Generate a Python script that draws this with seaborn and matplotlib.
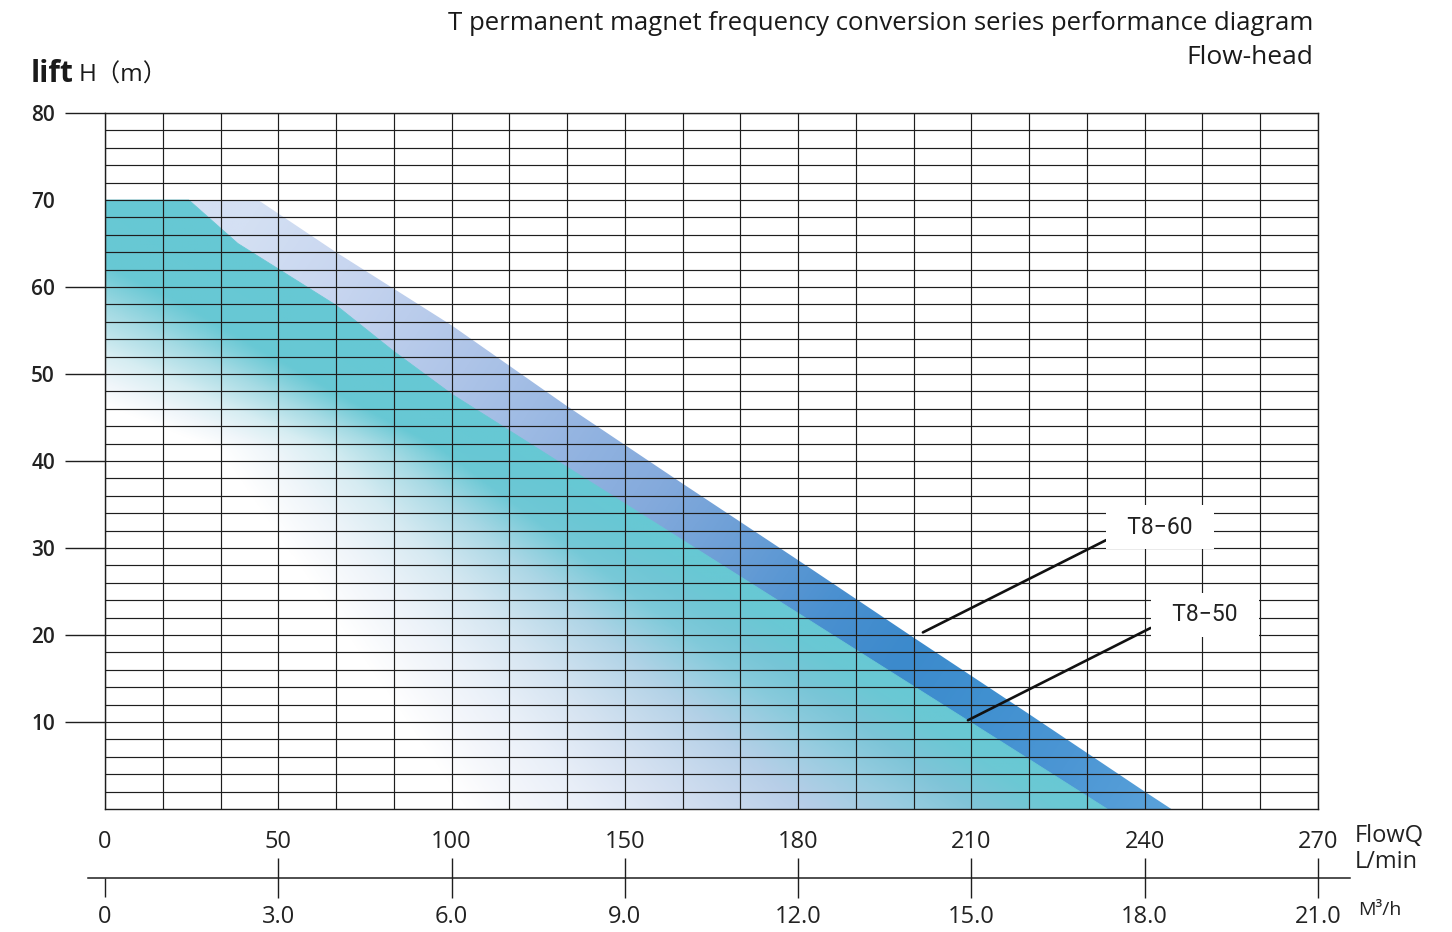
import numpy as np
import matplotlib
matplotlib.use("Agg")
import matplotlib.pyplot as plt
from matplotlib.colors import LinearSegmentedColormap
from matplotlib.transforms import blended_transform_factory
import seaborn as sns

# flow in m3/h, head in m
q60 = [0, 2.65, 4.0, 6.0, 8.0, 10.0, 12.0, 14.0, 16.0, 18.0, 18.46]
h60 = [70, 70, 64.0, 55.6, 46.3, 37.4, 28.6, 19.7, 10.9, 2.0, 0]
q50 = [0, 1.45, 2.3, 4.0, 5.0, 6.0, 8.0, 10.0, 12.0, 14.0, 16.0, 17.35]
h50 = [70, 70, 65.0, 57.9, 52.6, 47.7, 39.3, 30.9, 22.5, 14.1, 5.7, 0]

head_ticks = [10, 20, 30, 40, 50, 60, 70, 80]
flow_m3h = [0, 3, 6, 9, 12, 15, 18, 21]
m3h_labels = ["0", "3.0", "6.0", "9.0", "12.0", "15.0", "18.0", "21.0"]
lmin_labels = ["0", "50", "100", "150", "180", "210", "240", "270"]

models = ["T8\u221260", "T8\u221250"]
pointer_q = [14.16, 14.94]
pointer_h = [20.3, 10.2]
label_q = [18.27, 19.04]
label_h = [32.4, 22.3]

sns.set_theme(style="white")
plt.rcParams["font.family"] = ["Open Sans", "Noto Sans CJK SC", "DejaVu Sans"]

W, H = 1452, 932
fig = plt.figure(figsize=(W / 100, H / 100), dpi=100)
L, R, T, B = 105, 1318, 113, 809
ax = fig.add_axes([L / W, 1 - B / H, (R - L) / W, (B - T) / H])
XMAX, YMAX = 21, 80
sx = (R - L) / XMAX
sy = (B - T) / YMAX

# gradient images
nx, ny = 1200, 700
xx, yy = np.meshgrid(np.linspace(0, XMAX, nx), np.linspace(0, YMAX, ny))

blue = LinearSegmentedColormap.from_list("band", [
    (0.0, "#d4e0f3"), (0.1, "#c8d6f0"), (0.24, "#aec4e8"), (0.38, "#90b2e0"),
    (0.45, "#84aadc"), (0.54, "#6a9ed6"), (0.64, "#4a90d0"), (0.72, "#3c8acc"),
    (0.8, "#4090d0"), (0.9, "#4c96d4"), (1.0, "#5aa2da")])
X0, Y0 = q60[1] * sx, -h60[1] * sy
dX, dY = q60[-1] * sx - X0, -h60[-1] * sy - Y0
t = ((xx * sx - X0) * dX + (-yy * sy - Y0) * dY) / (dX ** 2 + dY ** 2)
rgb60 = blue(np.clip(t, 0, 1))

top_map = LinearSegmentedColormap.from_list("top", [
    (0.0, "#ffffff"), (0.15, "#f0f6fa"), (0.33, "#d6edf2"), (0.52, "#a6dbe4"),
    (0.7, "#68c8d4"), (1.0, "#66c8d4")])
bot_map = LinearSegmentedColormap.from_list("bot", [
    (0.0, "#ffffff"), (0.09, "#f4f6fb"), (0.2, "#e8eef8"), (0.31, "#d8e2f2"),
    (0.53, "#b8cee8"), (0.69, "#98cce0"), (0.8, "#80c4d8"), (0.92, "#6cc8d4"),
    (1.0, "#68c8d4")])
xe = np.interp(yy, h50[1:][::-1], q50[1:][::-1])
xw = np.interp(yy, [0, 1, 41.3, 50, 60, 70, 80], [6.25, 6.14, 1.97, -1.4, -5.6, -9.8, -14])
v = np.clip((xx - xw) / (xe - xw), 0, 1)
wgt = np.clip((41.3 - yy) / 40.3, 0, 1)[..., None]
rgb50 = top_map(v) * (1 - wgt) + bot_map(v) * wgt

poly60 = ax.fill_between(q60, h60, color="none", lw=0)
poly50 = ax.fill_between(q50, h50, color="none", lw=0)
for rgb, poly in [(rgb60, poly60), (rgb50, poly50)]:
    im = ax.imshow(rgb, extent=(0, XMAX, 0, YMAX), origin="lower", aspect="auto",
                   interpolation="bilinear", zorder=1)
    im.set_clip_path(poly.get_paths()[0], transform=ax.transData)
sns.lineplot(x=q50, y=h50, sort=False, color="#68c8d4", lw=0.6, ax=ax, zorder=1.5)

ax.set_xlim(0, XMAX)
ax.set_ylim(0, YMAX)
ax.set_xticks(np.arange(0, XMAX + 1, 1))
ax.set_yticks(head_ticks)
ax.set_yticks(np.arange(2, YMAX, 2), minor=True)
ax.set_axisbelow(False)
ax.grid(True, which="both", color="#1e1e1e", lw=0.85)
ax.tick_params(axis="x", length=0, labelbottom=False)
ax.tick_params(axis="y", which="minor", length=0)
ax.tick_params(axis="y", which="major", left=True, length=29, width=1, color="#1e1e1e",
               pad=7, labelsize=15)
ax.set_yticklabels([str(h) for h in head_ticks], fontweight="semibold", color="#222222")
ax.yaxis.get_major_ticks()[head_ticks.index(70)].tick1line.set_visible(False)
for s in ax.spines.values():
    s.set_visible(True)
    s.set_color("#1e1e1e")
    s.set_linewidth(1)
ax.set_xlabel("")
ax.set_ylabel("")

for name, pq, ph, lq, lh in zip(models, pointer_q, pointer_h, label_q, label_h):
    ax.annotate("  " + name + "  ", xy=(pq, ph), xytext=(lq, lh), ha="center", va="center",
                fontsize=16.5, color="#222222", family=["Roboto", "DejaVu Sans"], zorder=5,
                bbox=dict(boxstyle="square,pad=0.45", fc="white", ec="none"),
                arrowprops=dict(arrowstyle="-", lw=1.9, color="#111111",
                                shrinkA=0, shrinkB=0, relpos=(0.02, 0.2)))

# secondary flow axis below the chart
x_left = -(L - 88) / sx
x_right = (1350 - L) / sx
ax2 = fig.add_axes([88 / W, 1 - 878 / H, (1350 - 88) / W, 0.0005])
ax2.set_xlim(x_left, x_right)
ax2.patch.set_visible(False)
for k in ["top", "left", "right"]:
    ax2.spines[k].set_visible(False)
ax2.spines["bottom"].set_visible(True)
ax2.spines["bottom"].set_color("#1e1e1e")
ax2.spines["bottom"].set_linewidth(1.1)
ax2.set_yticks([])
ax2.set_xticks(flow_m3h[1:])
ax2.set_xticks(flow_m3h[:1], minor=True)
ax2.tick_params(axis="x", which="major", bottom=True, direction="inout", length=29, width=1,
                color="#1e1e1e", labelbottom=False)
ax2.tick_params(axis="x", which="minor", bottom=True, direction="out", length=14, width=1,
                color="#1e1e1e", labelbottom=False)

tr = blended_transform_factory(ax.transData, fig.transFigure)
for q, lab_l, lab_m in zip(flow_m3h, lmin_labels, m3h_labels):
    fig.text(q, 1 - 842 / H, lab_l, transform=tr, ha="center", va="center",
             fontsize=17, color="#222222")
    fig.text(q, 1 - 917 / H, lab_m, transform=tr, ha="center", va="center",
             fontsize=17, color="#222222")

fig.text(1355 / W, 1 - 836 / H, "FlowQ", ha="left", va="center", fontsize=17, color="#222222")
fig.text(1355 / W, 1 - 862 / H, "L/min", ha="left", va="center", fontsize=17, color="#222222")
fig.text(1358 / W, 1 - 910 / H, "M\u00b3/h", ha="left", va="center", fontsize=14, color="#222222")

fig.text(1313 / W, 1 - 24 / H, "T permanent magnet frequency conversion series performance diagram",
         ha="right", va="center", fontsize=18.5, fontweight="medium", color="#1a1a1a")
fig.text(1313 / W, 1 - 57 / H, "Flow-head", ha="right", va="center", fontsize=19,
         fontweight="medium", color="#1a1a1a")

fig.text(31 / W, 1 - 82 / H, "lift", ha="left", va="baseline", fontsize=21.5,
         fontweight="bold", color="#1a1a1a")
fig.text(79 / W, 1 - 82 / H, "H\uff08m\uff09", ha="left", va="baseline", fontsize=17.5,
         color="#1a1a1a")

fig.savefig("out.png", dpi=100)
